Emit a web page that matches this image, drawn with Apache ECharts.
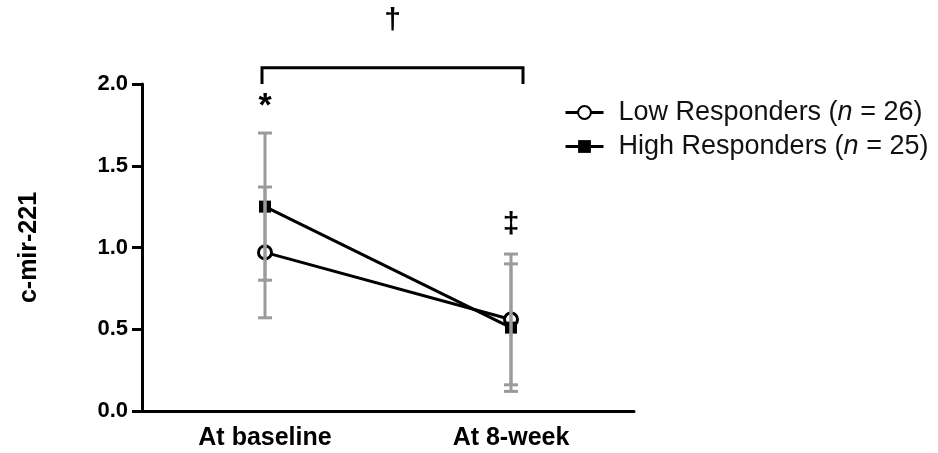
<!DOCTYPE html>
<html>
<head>
<meta charset="utf-8">
<script src="https://cdn.jsdelivr.net/npm/echarts@6/dist/echarts.min.js"></script>
<style>
  html, body { margin: 0; padding: 0; background: #fff; }
  #main { width: 938px; height: 453px; }
</style>
</head>
<body>
<div id="main"></div>
<script>
// data
var categories = ['At baseline', 'At 8-week'];
var lowMean = [0.97, 0.56];
var lowSD = [0.40, 0.40];
var highMean = [1.25, 0.51];
var highSD = [0.45, 0.39];
var yMin = 0, yMax = 2, yStep = 0.5;

var FONT = '"Liberation Sans", Arial, sans-serif';

function errData(mean, sd) {
    var out = [];
    for (var i = 0; i < mean.length; i++) {
        out.push([i, mean[i] - sd[i], mean[i] + sd[i]]);
    }
    return out;
}

// error bar with caps
function renderErr(params, api) {
    var lo = api.coord([api.value(0), api.value(1)]);
    var hi = api.coord([api.value(0), api.value(2)]);
    var w = 7;
    var style = { stroke: '#9b9b9b', lineWidth: 3 };
    return {
        type: 'group',
        children: [
            { type: 'line', shape: { x1: lo[0], y1: lo[1], x2: hi[0], y2: hi[1] }, style: style },
            { type: 'line', shape: { x1: lo[0] - w, y1: lo[1], x2: lo[0] + w, y2: lo[1] }, style: style },
            { type: 'line', shape: { x1: hi[0] - w, y1: hi[1], x2: hi[0] + w, y2: hi[1] }, style: style }
        ]
    };
}

var chart = echarts.init(document.getElementById('main'));
var option = {
    animation: false,
    backgroundColor: '#fff',
    grid: { left: 142, right: 304, top: 84, bottom: 42 },
    legend: {
        left: 559,
        top: 94,
        orient: 'vertical',
        itemWidth: 38,
        itemHeight: 16,
        itemGap: 7,
        data: ['Low', 'High'],
        lineStyle: { width: 3, color: '#000' },
        formatter: function(name) {
            var n = name === 'Low' ? 26 : 25;
            return '{a|' + name + ' Responders (}{i|n}{a| = ' + n + ')}';
        },
        textStyle: {
            rich: {
                a: { fontFamily: FONT, fontSize: 27, color: '#111', lineHeight: 30 },
                i: { fontFamily: FONT, fontSize: 27, color: '#111', fontStyle: 'italic', lineHeight: 30 }
            },
            padding: [0, 0, 0, 10]
        }
    },
    xAxis: {
        type: 'category',
        data: categories,
        boundaryGap: true,
        axisLine: { lineStyle: { color: '#000', width: 3 } },
        axisTick: { alignWithLabel: true, length: 7, lineStyle: { color: '#000', width: 3 } },
        axisLabel: { margin: 15, color: '#000', fontFamily: FONT, fontWeight: 'bold', fontSize: 25 }
    },
    yAxis: {
        type: 'value',
        min: yMin,
        max: yMax,
        interval: yStep,
        name: 'c-mir-221',
        nameLocation: 'middle',
        nameRotate: 90,
        nameGap: 100,
        nameTextStyle: { color: '#000', fontFamily: FONT, fontWeight: 'bold', fontSize: 25 },
        splitLine: { show: false },
        axisLine: { show: true, lineStyle: { color: '#000', width: 3 } },
        axisTick: { show: true, length: 10, lineStyle: { color: '#000', width: 3 } },
        axisLabel: {
            margin: 14, color: '#000', fontFamily: FONT, fontWeight: 'bold', fontSize: 22,
            formatter: function(v) { return v.toFixed(1); }
        }
    },
    series: [
        {
            name: 'Low',
            type: 'line',
            data: lowMean,
            symbol: 'circle',
            symbolSize: 13,
            lineStyle: { color: '#000', width: 3 },
            itemStyle: { color: '#fff', borderColor: '#000', borderWidth: 3 },
            z: 2
        },
        {
            name: 'High',
            type: 'line',
            data: highMean,
            symbol: 'rect',
            symbolSize: 12,
            lineStyle: { color: '#000', width: 3 },
            itemStyle: { color: '#000', borderColor: '#000', borderWidth: 0 },
            z: 2
        },
        { type: 'custom', renderItem: renderErr, data: errData(lowMean, lowSD), z: 4, silent: true },
        { type: 'custom', renderItem: renderErr, data: errData(highMean, highSD), z: 4, silent: true }
    ]
};
chart.setOption(option);

// significance marks
var pL = chart.convertToPixel({ gridIndex: 0 }, [0, 2.1]);
var pR = chart.convertToPixel({ gridIndex: 0 }, [1, 2.1]);
var pB = chart.convertToPixel({ gridIndex: 0 }, [0, 2.0]);
var pStar = chart.convertToPixel({ gridIndex: 0 }, [0, 1.86]);
var pDd = chart.convertToPixel({ gridIndex: 0 }, [1, 1.14]);
var pTop = chart.convertToPixel({ gridIndex: 0 }, [0, 2.385]);
var xL = pL[0] - 3, xR = pR[0] + 12;
function markStyle(t, size) {
    return { text: t, fontFamily: FONT, fontWeight: 'bold', fontSize: size, fill: '#000', textAlign: 'center', textVerticalAlign: 'middle' };
}

chart.setOption({
    graphic: [
        {
            type: 'polyline',
            shape: { points: [[xL, pB[1]], [xL, pL[1]], [xR, pL[1]], [xR, pB[1]]] },
            style: { stroke: '#000', lineWidth: 3, fill: null }
        },
        { type: 'text', x: (xL + xR) / 2, y: pTop[1], style: markStyle('†', 30) },
        { type: 'text', x: pStar[0], y: pStar[1], style: markStyle('*', 34) },
        { type: 'text', x: pDd[0], y: pDd[1], style: markStyle('‡', 30) }
    ]
});
</script>
</body>
</html>
